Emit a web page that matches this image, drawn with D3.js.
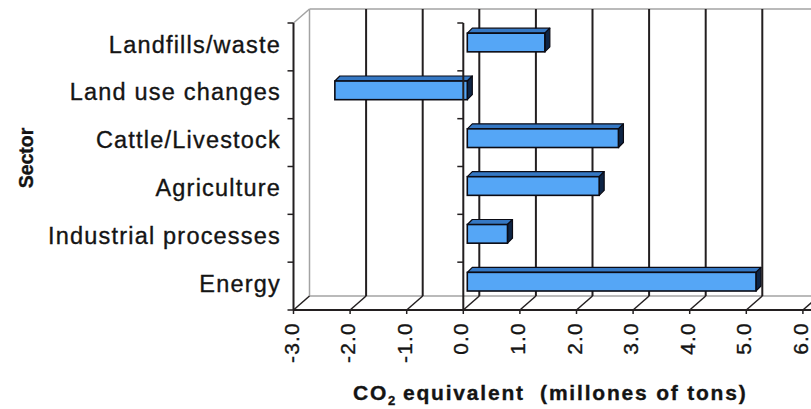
<!DOCTYPE html>
<html>
<head>
<meta charset="utf-8">
<script src="https://cdn.jsdelivr.net/npm/d3@7"></script>
<style>
  html, body { margin: 0; padding: 0; background: #ffffff; }
  svg { display: block; }
  text { font-family: "Liberation Sans", Arial, sans-serif; fill: #141414; stroke: #141414; stroke-width: 0.35px; }
</style>
</head>
<body>
<svg id="chart" width="811" height="409"></svg>
<script>
// ---- data ----
const categories = ["Landfills/waste", "Land use changes", "Cattle/Livestock", "Agriculture", "Industrial processes", "Energy"];
const values = [1.37, -2.34, 2.67, 2.33, 0.71, 5.1];
const xTickValues = [-3, -2, -1, 0, 1, 2, 3, 4, 5, 6];
const xTickLabels = ["-3.0", "-2.0", "-1.0", "0.0", "1.0", "2.0", "3.0", "4.0", "5.0", "6.0"];
const yTitle = "Sector";
const xTitleMain = "CO";
const xTitleSub = "2";
const xTitleRest = " equivalent  (millones of tons)";

// ---- layout ----
const W = 811, H = 409;
const frontTop = 23, frontBottom = 310;
const wallDX = 16, wallDY = -14;       // depth offset of the back wall
const barDX = 4, barDY = -4.4;         // bar front-face offset
const barDepthX = 5, barDepthY = -5;   // bar thickness in depth

const svg = d3.select("#chart");

const x = d3.scaleLinear().domain([-3, 6]).range([293.5, 802.9]);
const y = d3.scaleBand().domain(categories).range([frontTop, frontBottom])
  .paddingInner(0.61).paddingOuter(0.305);
const step = y.step();

const dark = "#231f20";
const wallGray = "#a3a3a3";

// back wall / floor outline
const g0 = svg.append("g");
const bx0 = x(-3) + wallDX, by0 = frontTop + wallDY, byb = frontBottom + wallDY;
g0.append("line").attr("x1", bx0).attr("y1", by0).attr("x2", W).attr("y2", by0)
  .attr("stroke", wallGray).attr("stroke-width", 1.5);
g0.append("line").attr("x1", bx0).attr("y1", by0).attr("x2", bx0).attr("y2", byb)
  .attr("stroke", wallGray).attr("stroke-width", 1.5);
g0.append("line").attr("x1", bx0).attr("y1", byb).attr("x2", W).attr("y2", byb)
  .attr("stroke", wallGray).attr("stroke-width", 1.5);
g0.append("line").attr("x1", x(-3)).attr("y1", frontTop).attr("x2", bx0).attr("y2", by0)
  .attr("stroke", wallGray).attr("stroke-width", 1.5);

// back wall gridlines
g0.selectAll(".grid").data(xTickValues.filter(v => v > -3)).enter().append("line")
  .attr("x1", d => x(d) + wallDX).attr("x2", d => x(d) + wallDX)
  .attr("y1", by0).attr("y2", byb)
  .attr("stroke", dark).attr("stroke-width", 2);

// floor diagonals
g0.selectAll(".diag").data(xTickValues).enter().append("line")
  .attr("x1", d => x(d)).attr("y1", frontBottom)
  .attr("x2", d => x(d) + wallDX).attr("y2", byb)
  .attr("stroke", dark).attr("stroke-width", 1.5);

// ---- bars ----
const gb = svg.append("g");
const data = categories.map((c, i) => ({ c, v: values[i] }));
data.forEach(d => {
  const x1 = Math.min(x(0), x(d.v)) + barDX;
  const x2 = Math.max(x(0), x(d.v)) + barDX;
  const y1 = y(d.c) + barDY;
  const y2 = y1 + y.bandwidth();
  // top face
  gb.append("polygon")
    .attr("points", [[x1, y1], [x2, y1], [x2 + barDepthX, y1 + barDepthY], [x1 + barDepthX, y1 + barDepthY]].map(p => p.join(",")).join(" "))
    .attr("fill", "#3578c4").attr("stroke", "#0b0b14").attr("stroke-width", 1.2).attr("stroke-linejoin", "round");
  // side face
  gb.append("polygon")
    .attr("points", [[x2, y1], [x2 + barDepthX, y1 + barDepthY], [x2 + barDepthX, y2 + barDepthY], [x2, y2]].map(p => p.join(",")).join(" "))
    .attr("fill", "#0e2546").attr("stroke", "#0b0b14").attr("stroke-width", 1.2).attr("stroke-linejoin", "round");
  // front face
  gb.append("rect")
    .attr("x", x1).attr("y", y1).attr("width", x2 - x1).attr("height", y2 - y1)
    .attr("fill", "#55a6f6").attr("stroke", "#0b0b14").attr("stroke-width", 1.6);
});

// ---- axes ----
const ga = svg.append("g");
const boundaries = d3.range(categories.length + 1).map(i => frontTop + i * step);

// front value axis
ga.append("line").attr("x1", x(-3)).attr("x2", W).attr("y1", frontBottom).attr("y2", frontBottom)
  .attr("stroke", dark).attr("stroke-width", 2);
ga.selectAll(".xtick").data(xTickValues).enter().append("line")
  .attr("x1", d => x(d)).attr("x2", d => x(d)).attr("y1", frontBottom).attr("y2", frontBottom + 4)
  .attr("stroke", dark).attr("stroke-width", 1.5);

// category axis lines (left edge and at zero)
[x(-3), x(0)].forEach(ax => {
  ga.append("line").attr("x1", ax).attr("x2", ax).attr("y1", frontTop).attr("y2", frontBottom)
    .attr("stroke", dark).attr("stroke-width", 2);
  ga.selectAll(null).data(boundaries).enter().append("line")
    .attr("x1", ax - 6).attr("x2", ax).attr("y1", d => d).attr("y2", d => d)
    .attr("stroke", dark).attr("stroke-width", 1.5);
});

// x tick labels (rotated)
ga.selectAll(".xlabel").data(xTickValues).enter().append("text")
  .attr("transform", d => `translate(${x(d) + 5},${322}) rotate(-90)`)
  .attr("text-anchor", "end")
  .style("font-size", "21px").style("letter-spacing", "1.2px")
  .text((d, i) => xTickLabels[i]);

// category labels
ga.selectAll(".ylabel").data(categories).enter().append("text")
  .attr("x", 281)
  .attr("y", d => y(d) + y.bandwidth() / 2 + 5.7)
  .attr("text-anchor", "end")
  .style("font-size", "23.5px").style("letter-spacing", "1.2px")
  .text(d => d);

// y title
svg.append("text")
  .attr("transform", "translate(33,158) rotate(-90)")
  .attr("text-anchor", "middle")
  .style("font-size", "19.5px").style("font-weight", "bold")
  .text(yTitle);

// x title
const xt = svg.append("text")
  .attr("x", 353).attr("y", 400)
  .attr("text-anchor", "start")
  .style("font-size", "21px").style("font-weight", "bold").style("letter-spacing", "1.8px")
  .style("white-space", "pre");
xt.append("tspan").text(xTitleMain);
xt.append("tspan").attr("dy", 5).style("font-size", "13px").style("letter-spacing", "0px").text(xTitleSub);
xt.append("tspan").attr("dy", -5).text(xTitleRest);
</script>
</body>
</html>
